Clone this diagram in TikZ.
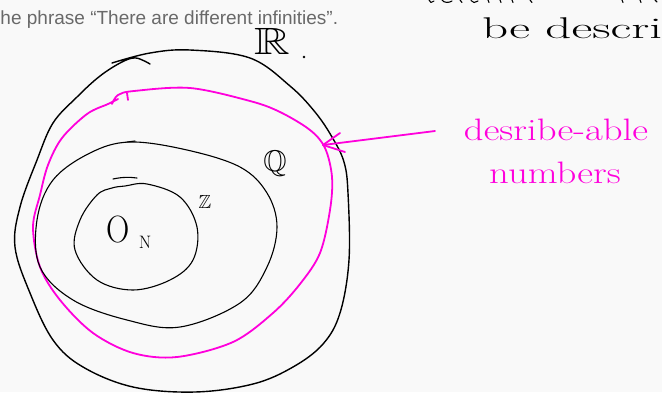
\documentclass[tikz,border=0pt]{standalone}
\usepackage{fontspec}
\usepackage{amssymb}
\newfontfamily\graysans{Liberation Sans}
\definecolor{pen}{RGB}{255,0,220}
\definecolor{bgc}{RGB}{249,249,249}
\definecolor{grayt}{RGB}{105,105,105}
\begin{document}
\begin{tikzpicture}[x=1pt,y=-1pt,
  ink/.style={draw=black,line width=1.4pt,line cap=round,line join=round},
  thin ink/.style={draw=black,line width=1.1pt,line cap=round,line join=round},
  pinkpen/.style={draw=pen,line width=1.8pt,line cap=round,line join=round},
  hand/.style={inner sep=0pt,outer sep=0pt},
  pinktext/.style={hand,text=pen,font=\fontsize{31}{31}\selectfont}]
\fill[bgc] (0,0) rectangle (662,392);
\useasboundingbox (0,0) rectangle (662,392);
\clip (0,0) rectangle (662,392);

% gray text at top
\node[hand,anchor=base west,text=grayt,font=\graysans\fontsize{19}{19}\selectfont] (phrase) at (0.5,24) {he phrase “There are different infinities”.};

% top right handwriting (cut off)
\node[hand,anchor=base west,font=\fontsize{30}{30}\selectfont,xscale=1.7] (bedesc) at (482,38) {be descri};
\draw[thin ink] (429,0) -- (431,2.5) -- (434,1);
\draw[thin ink] (442,0) .. controls (444,3) and (449,3) .. (452,1);
\draw[thin ink] (460,0) -- (462,2.5);
\draw[thin ink] (471,0.5) -- (474,2.5) -- (478,1);
\draw[thin ink] (488,0) -- (489,2.5);
\draw[thin ink] (500,0) -- (501,2.5);
\draw[thin ink] (512,0) -- (513,2.5);
\draw[thin ink] (530,0) -- (532,2.5);
\draw[thin ink] (622,0) -- (623,2.5);
\draw[thin ink] (640,0) -- (641,2.5);
\draw[thin ink] (655,0) -- (657,2);

% outer curve (R)
\draw[ink] plot[smooth,tension=0.6] coordinates {
 (112,63) (150,53) (190,50) (250,58) (290,86) (315,112) (332,137) (344,162) (348,193)
 (349,260) (340,313) (323,344) (293,367) (253,384) (195,392) (133,387) (83,367) (53,340)
 (30,293) (15,247) (20,207) (37,160) (53,123) (77,97) (100,76) (122,62) (136,58) (150,64)};
\node[hand,font=\fontsize{38}{38}\selectfont,xscale=1.3] (R) at (272,41) {$\mathbb{R}$};
\fill (304,57) circle (1.3);

% magenta curve (describable)
\draw[pinkpen] plot[smooth,tension=0.55] coordinates {
 (112,104) (118,95) (134,91) (190,88) (250,101) (280,112) (310,130) (325,148) (332,177)
 (330,210) (320,253) (300,284) (273,313) (233,342) (177,357) (133,353) (93,333) (60,300)
 (40,267) (33,227) (40,195) (48,165) (62,138) (87,114) (108,104) (118,99)};
\draw[pinkpen] (127,93) -- (128,100);

% middle ellipse (Q)
\draw[thin ink] plot[smooth cycle,tension=0.6] coordinates {
 (130,142) (187,150) (240,167) (267,193) (277,227) (267,267) (240,303) (180,327)
 (127,320) (73,300) (40,267) (37,220) (53,180) (90,153)};
\draw[thin ink] (127,142) -- (135,141);
\node[hand,font=\fontsize{30}{30}\selectfont] (Q) at (275,164) {$\mathbb{Q}$};

% inner ellipse (Z)
\draw[thin ink] plot[smooth cycle,tension=0.6] coordinates {
 (125,186) (147,184) (180,197) (197,227) (193,260) (170,280) (133,290) (97,280)
 (75,250) (80,220) (97,195) (112,188)};
\draw[thin ink] (113,179) .. controls (122,177) and (130,177) .. (137,178);
\node[hand,font=\fontsize{19}{19}\selectfont] (Z) at (205,202) {$\mathbb{Z}$};

% N label
\node[hand,font=\fontsize{38}{38}\selectfont,xscale=0.85] (Nbig) at (118,230) {O};
\node[hand,font=\fontsize{18}{18}\selectfont] (Nsub) at (145,242) {N};

% label and arrow
\node[pinktext,anchor=base,xscale=1.25] (desc) at (556,140) {desribe-able};
\node[pinktext,anchor=base,xscale=1.25] (numb) at (555,183) {numbers};
\coordinate (astart) at (435,131);
\coordinate (atip) at (323,145);
\draw[pinkpen] (astart) -- (atip);
\draw[pinkpen] (atip) -- ++(17,-12);
\draw[pinkpen] (atip) -- ++(22,7);
\end{tikzpicture}
\end{document}
